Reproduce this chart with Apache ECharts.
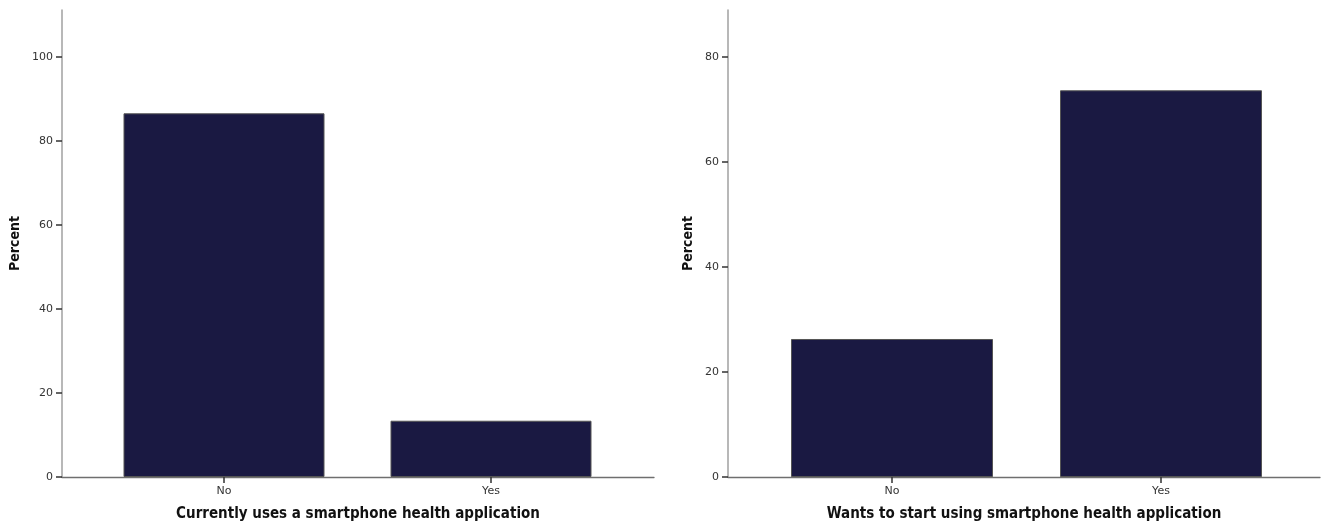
<!DOCTYPE html>
<html>
<head>
<meta charset="utf-8">
<script src="https://cdn.jsdelivr.net/npm/echarts@6/dist/echarts.min.js"></script>
<style>
html,body{margin:0;padding:0;background:#fff;}
#c{width:1323px;height:527px;}
</style>
</head>
<body>
<div id="c"></div>
<script>
var categories = ['No', 'Yes'];
var leftValues = [86.6, 13.4];
var rightValues = [26.3, 73.7];
var leftTicks = [0, 20, 40, 60, 80, 100];
var rightTicks = [0, 20, 40, 60, 80];
var leftTitle = 'Currently uses a smartphone health application';
var rightTitle = 'Wants to start using smartphone health application';
var yTitle = 'Percent';

var labelFont = 'DejaVu Sans';
var nameFont = 'DejaVu Sans Condensed';
var barColor = '#1a1942';

function fullX(idx, name) {
  return {
    gridIndex: idx, type: 'value', min: 0, max: 1,
    axisLine: {show: true, lineStyle: {color: '#6f6f6f', width: 1.3}},
    axisTick: {show: false}, axisLabel: {show: false}, splitLine: {show: false},
    name: name, nameLocation: 'middle', nameGap: 30,
    nameTextStyle: {fontFamily: nameFont, fontWeight: 'bold', fontSize: 15, color: '#111', verticalAlign: 'top'}
  };
}
function fullY(idx, max, ticks, gap) {
  return {
    gridIndex: idx, type: 'value', min: 0, max: max,
    axisLine: {show: true, lineStyle: {color: '#a0a0a0', width: 1.5}},
    axisTick: {show: true, length: 6, customValues: ticks, lineStyle: {color: '#333', width: 1.5}},
    axisLabel: {show: true, customValues: ticks, margin: 9, fontFamily: labelFont, fontSize: 11, color: '#333'},
    splitLine: {show: false},
    name: yTitle, nameLocation: 'middle', nameGap: gap, nameRotate: 90,
    nameTextStyle: {fontFamily: nameFont, fontWeight: 'bold', fontSize: 14, color: '#111'}
  };
}
function catX(idx) {
  return {
    gridIndex: idx, type: 'category', data: categories, boundaryGap: true,
    axisLine: {show: false},
    axisTick: {show: true, alignWithLabel: true, length: 6, lineStyle: {color: '#333', width: 1.5}},
    axisLabel: {margin: 9, fontFamily: labelFont, fontSize: 11, color: '#333'},
    splitLine: {show: false}
  };
}
function hidY(idx, max) {
  return {gridIndex: idx, type: 'value', min: 0, max: max, show: false, splitLine: {show: false}};
}

var option = {
  animation: false,
  backgroundColor: '#fff',
  grid: [
    {left: 62, width: 592, top: 10, bottom: 50},
    {left: 90.5, width: 534, top: 10, bottom: 50},
    {left: 728, width: 592, top: 10, bottom: 50},
    {left: 757.5, width: 538, top: 10, bottom: 50}
  ],
  xAxis: [fullX(0, leftTitle), catX(1), fullX(2, rightTitle), catX(3)],
  yAxis: [fullY(0, 111.2, leftTicks, 40), hidY(1, 111.2), fullY(2, 89, rightTicks, 33), hidY(3, 89)],
  series: [
    {type: 'bar', xAxisIndex: 1, yAxisIndex: 1, data: leftValues, barWidth: 201,
     itemStyle: {color: barColor, borderColor: '#555', borderWidth: 1}},
    {type: 'bar', xAxisIndex: 3, yAxisIndex: 3, data: rightValues, barWidth: 202,
     itemStyle: {color: barColor, borderColor: '#555', borderWidth: 1}}
  ]
};
var chart = echarts.init(document.getElementById('c'));
chart.setOption(option);
</script>
</body>
</html>
